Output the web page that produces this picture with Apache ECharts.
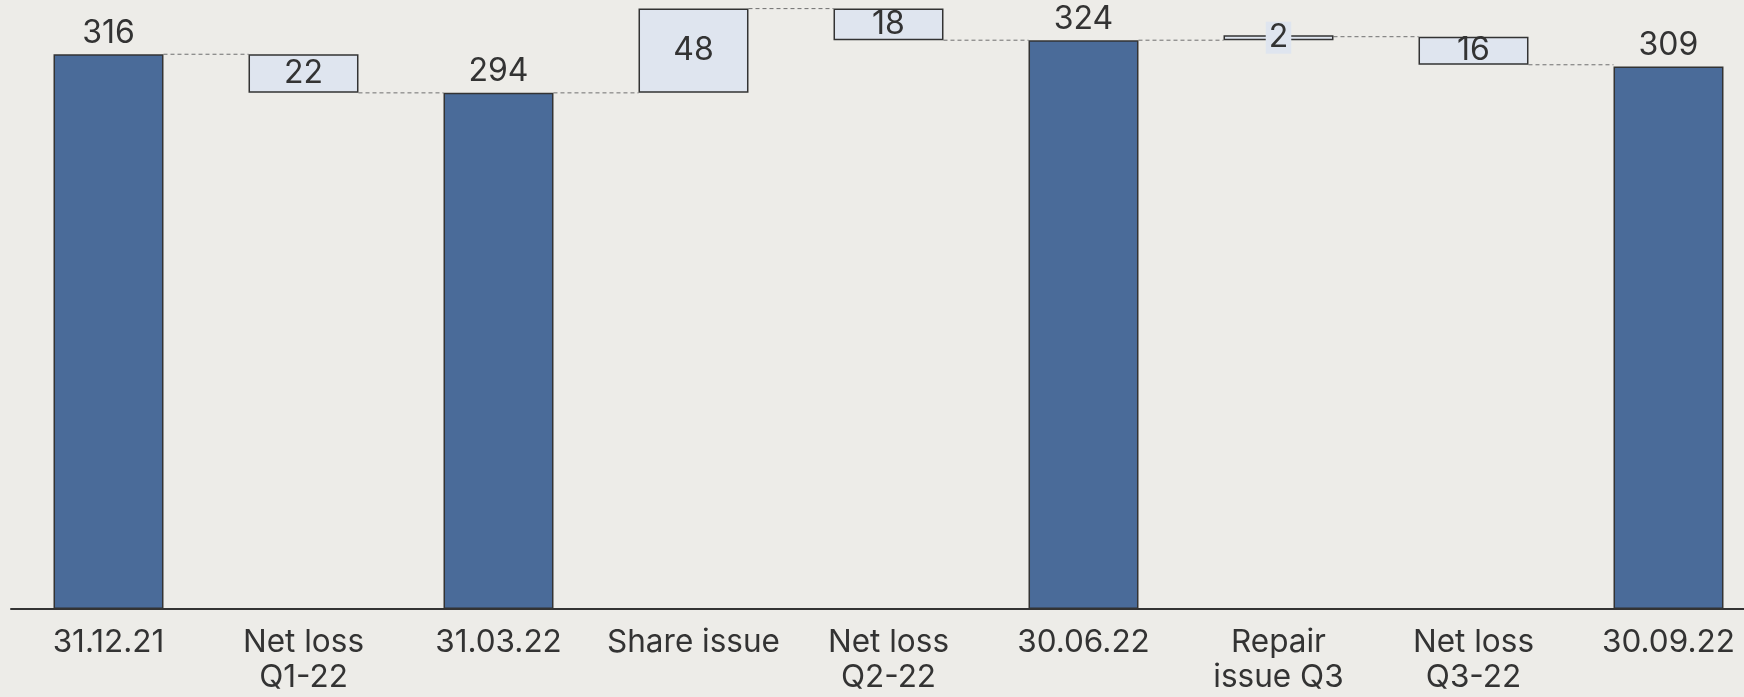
<!DOCTYPE html>
<html>
<head>
<meta charset="utf-8">
<script src="https://cdn.jsdelivr.net/npm/echarts@6/dist/echarts.min.js"></script>
<style>
  html, body { margin: 0; padding: 0; background: #edece8; }
  #main { width: 1744px; height: 697px; }
</style>
</head>
<body>
<div id="main"></div>
<script>
// categories and values
const categories = ["31.12.21", "Net loss\nQ1-22", "31.03.22", "Share issue", "Net loss\nQ2-22", "30.06.22", "Repair\nissue Q3", "Net loss\nQ3-22", "30.09.22"];
const totals = [316, null, 294, null, null, 324, null, null, 309];
const changes = [null, -22, null, 48, -18, null, 2, -16, null];

// running level after each step
let levels = [];
let cur = 0;
categories.forEach((c, i) => {
  if (totals[i] != null) cur = totals[i];
  else cur = cur + changes[i];
  levels.push(cur);
});

let baseData = [];
let barData = [];
categories.forEach((c, i) => {
  if (totals[i] != null) {
    baseData.push(0);
    barData.push({
      value: totals[i],
      itemStyle: { color: "#4a6b99" },
      label: { position: "top", distance: 5 },
    });
  } else {
    const prev = levels[i] - changes[i];
    baseData.push(Math.min(prev, levels[i]));
    const small = Math.abs(changes[i]) < 5;
    barData.push({
      value: Math.abs(changes[i]),
      itemStyle: { color: "#dfe5ef" },
      label: {
        position: "inside",
        backgroundColor: small ? "#dfe5ef" : "transparent",
        padding: small ? [3, 3, 1, 3] : 0,
        lineHeight: 28,
      },
    });
  }
});

const connectors = levels.slice(0, -1).map((v, i) => [i, v]);
const barPct = 0.564;
const font = "Inter";

var myChart = echarts.init(document.getElementById("main"));
var option = {
  backgroundColor: "#edece8",
  animation: false,
  textStyle: { fontFamily: font },
  grid: { left: 11, width: 1755, top: 8.6, bottom: 88, outerBoundsMode: "none", containLabel: false },
  xAxis: {
    type: "category",
    data: categories,
    axisLine: { show: true, lineStyle: { color: "#333", width: 2 } },
    axisTick: { show: false },
    axisLabel: {
      interval: 0,
      fontSize: 31.5,
      lineHeight: 35,
      color: "#333",
      margin: 16,
      fontFamily: font,
    },
  },
  yAxis: {
    type: "value",
    min: 0,
    max: Math.max(...levels),
    show: false,
    splitLine: { show: false },
  },
  series: [
    {
      type: "custom",
      z: 1,
      silent: true,
      data: connectors,
      renderItem: function (params, api) {
        const i = api.value(0);
        const lvl = api.value(1);
        const a = api.coord([i, lvl]);
        const b = api.coord([i + 1, lvl]);
        const hw = (api.size([1, 0])[0] * barPct) / 2;
        return {
          type: "line",
          shape: { x1: a[0] + hw, y1: a[1], x2: b[0] - hw, y2: b[1] },
          style: { stroke: "#6f6f6f", lineWidth: 1, lineDash: [4, 3] },
        };
      },
    },
    {
      type: "bar",
      stack: "w",
      barWidth: barPct * 100 + "%",
      itemStyle: { color: "transparent" },
      data: baseData,
      z: 2,
    },
    {
      type: "bar",
      stack: "w",
      z: 3,
      barWidth: barPct * 100 + "%",
      barMinHeight: 5,
      itemStyle: { borderColor: "#333", borderWidth: 1.5 },
      label: {
        show: true,
        fontSize: 32,
        color: "#333",
        fontFamily: font,
        formatter: function (p) {
          const i = p.dataIndex;
          return totals[i] != null ? totals[i] : Math.abs(changes[i]);
        },
      },
      data: barData,
    },
  ],
};

option && myChart.setOption(option);
</script>
</body>
</html>
